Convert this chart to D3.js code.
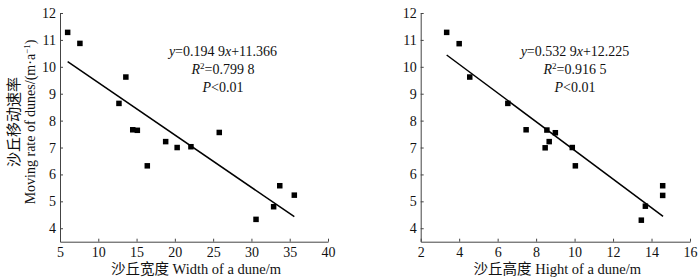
<!DOCTYPE html>
<html>
<head>
<meta charset="utf-8">
<script src="https://cdn.jsdelivr.net/npm/d3@7"></script>
<style>
  body { margin: 0; background: #fff; }
  svg { font-family: "Liberation Serif", "Times New Roman", "Noto Sans CJK SC", serif; }
</style>
</head>
<body>
<svg id="chart" width="700" height="280"></svg>
<script>
// left panel: dune width vs moving rate
const widthX = [6.0, 7.6, 13.6, 12.7, 14.5, 15.1, 25.8, 18.8, 20.3, 22.1, 16.4, 33.7, 35.6, 32.9, 30.6];
const widthY = [11.28, 10.87, 9.62, 8.64, 7.66, 7.64, 7.56, 7.22, 7.0, 7.03, 6.32, 5.58, 5.23, 4.80, 4.33];
// right panel: dune height vs moving rate
const heightX = [3.35, 4.0, 4.55, 6.53, 7.48, 8.56, 9.0, 8.47, 8.68, 9.88, 10.04, 14.58, 14.58, 13.68, 13.47];
const heightY = [11.28, 10.86, 9.62, 8.64, 7.66, 7.65, 7.55, 6.99, 7.22, 7.0, 6.32, 5.58, 5.22, 4.82, 4.30];

const yTicks = [4, 5, 6, 7, 8, 9, 10, 11, 12];
const leftXTicks = [5, 10, 15, 20, 25, 30, 35, 40];
const rightXTicks = [2, 4, 6, 8, 10, 12, 14, 16];

const leftFit = { slope: -0.1949, icept: 11.366, from: 6.0, to: 35.6 };
const rightFit = { slope: -0.5329, icept: 12.225, from: 3.35, to: 14.6 };
const leftStats = ["0.194 9", "11.366", "0.799 8"];
const rightStats = ["0.532 9", "12.225", "0.916 5"];

const svg = d3.select("#chart");
const plotTop = 13, plotBottom = 241.7;

const y = d3.scaleLinear().domain([3.5, 12]).range([plotBottom, plotTop]);

function panel(xs, ys, xDomain, xRange, xTicks, fit, stats, xLabel, annoX) {
  const x = d3.scaleLinear().domain(xDomain).range(xRange);
  const g = svg.append("g");

  const yAxis = g.append("g")
    .attr("transform", `translate(${xRange[0]},0)`)
    .call(d3.axisLeft(y).tickValues(yTicks).tickSize(-3).tickPadding(4).tickSizeOuter(0));
  const xAxis = g.append("g")
    .attr("transform", `translate(0,${plotBottom})`)
    .call(d3.axisBottom(x).tickValues(xTicks).tickSize(-3).tickPadding(5).tickSizeOuter(0));

  [yAxis, xAxis].forEach(a => {
    a.select(".domain").attr("stroke", "#444");
    a.selectAll(".tick line").attr("stroke", "#444");
    a.selectAll("text").attr("font-size", 14).attr("fill", "#111")
      .attr("font-family", "Liberation Serif, serif");
  });

  g.append("line")
    .attr("x1", x(fit.from)).attr("y1", y(fit.slope * fit.from + fit.icept))
    .attr("x2", x(fit.to)).attr("y2", y(fit.slope * fit.to + fit.icept))
    .attr("stroke", "#000").attr("stroke-width", 1.5);

  const s = 5.5;
  g.selectAll("rect.pt")
    .data(xs.map((v, i) => [v, ys[i]]))
    .join("rect")
    .attr("class", "pt")
    .attr("x", d => x(d[0]) - s / 2)
    .attr("y", d => y(d[1]) - s / 2)
    .attr("width", s).attr("height", s)
    .attr("fill", "#000");

  const anno = g.append("g").attr("font-size", 14).attr("text-anchor", "middle").attr("fill", "#111");
  const t1 = anno.append("text").attr("x", annoX).attr("y", 56);
  t1.append("tspan").attr("font-style", "italic").text("y");
  t1.append("tspan").text("=" + stats[0]);
  t1.append("tspan").attr("font-style", "italic").text("x");
  t1.append("tspan").text("+" + stats[1]);
  const t2 = anno.append("text").attr("x", annoX).attr("y", 74);
  t2.append("tspan").attr("font-style", "italic").text("R");
  t2.append("tspan").attr("font-size", 9).attr("dy", -5).text("2");
  t2.append("tspan").attr("dy", 5).text("=" + stats[2]);
  const t3 = anno.append("text").attr("x", annoX).attr("y", 92);
  t3.append("tspan").attr("font-style", "italic").text("P");
  t3.append("tspan").text("<0.01");

  g.append("text")
    .attr("x", (xRange[0] + xRange[1]) / 2 + 2).attr("y", 274)
    .attr("text-anchor", "middle").attr("font-size", 14.5).attr("fill", "#111")
    .text(xLabel);
}

panel(widthX, widthY, [5, 40], [60, 328], leftXTicks, leftFit, leftStats,
  "沙丘宽度 Width of a dune/m", 223);
panel(heightX, heightY, [2, 16], [420.7, 690], rightXTicks, rightFit, rightStats,
  "沙丘高度 Hight of a dune/m", 575);

// y axis title, two lines
const yl = svg.append("g").attr("transform", "translate(0,122) rotate(-90)")
  .attr("text-anchor", "middle").attr("fill", "#111");
yl.append("text").attr("x", 0).attr("y", 19).attr("font-size", 15).text("沙丘移动速率");
const yl2 = yl.append("text").attr("x", 0).attr("y", 35).attr("font-size", 14);
yl2.append("tspan").text("Moving rate of dunes/(m·a");
yl2.append("tspan").attr("font-size", 9).attr("dy", -5).text("−1");
yl2.append("tspan").attr("dy", 5).text(")");
</script>
</body>
</html>
